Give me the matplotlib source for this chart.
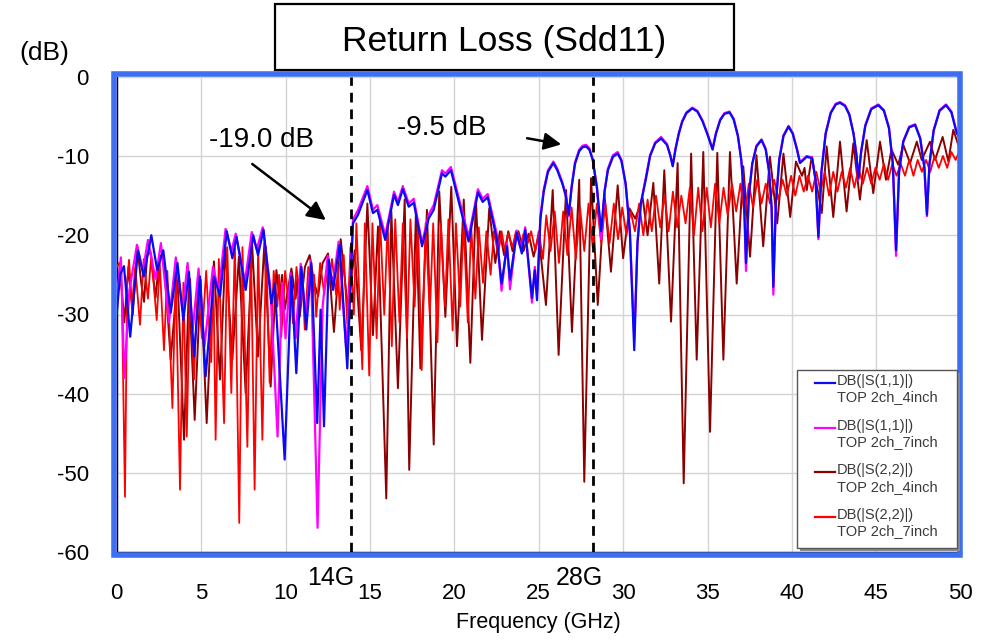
import numpy as np
import matplotlib.pyplot as plt
from matplotlib.patches import Rectangle

plt.rcParams["font.family"] = ["Liberation Sans", "DejaVu Sans"]
plt.rcParams["axes.unicode_minus"] = False

# ---- data: (GHz, dB) turning points ----
s11_4inch = [
    (0.0, -30), (0.2, -25), (0.43, -23.9), (0.8, -32.8), (1.26, -21.9), (1.6, -25.2), (2.05, -20.0),
    (2.4, -24.4), (2.76, -21.9), (3.2, -29.8), (3.6, -23.5), (3.95, -30.7), (4.28, -24.6), (4.58, -35.3),
    (4.93, -25.2), (5.27, -37.8), (5.76, -25.2), (6.12, -27.7), (6.52, -19.5), (6.85, -22.9), (7.1, -20.2),
    (7.64, -26.9), (8.09, -20.0), (8.37, -22.5), (8.7, -19.3), (9.16, -28.6), (9.36, -26.1), (9.95, -48.3),
    (10.35, -25.2), (10.64, -37.4), (10.94, -24.0), (11.23, -31.9), (11.53, -23.5), (11.88, -43.7),
    (12.08, -29.4), (12.28, -44.1), (12.56, -23.1), (12.81, -26.9), (13.21, -21.2), (13.66, -36.8),
    (14.0, -18.5), (14.3, -17.4), (14.85, -14.3), (15.18, -17.2), (15.44, -16.8), (15.91, -20.6),
    (16.43, -14.9), (16.66, -16.2), (16.95, -14.2), (17.3, -16.4), (17.6, -15.9), (18.09, -21.4),
    (18.48, -17.9), (18.78, -16.8), (19.27, -12.2), (19.47, -12.6), (19.8, -11.8), (20.85, -20.8),
    (21.4, -14.6), (21.68, -15.8), (21.98, -15.2), (22.53, -20.6), (22.8, -26.1), (23.12, -21.4),
    (23.3, -25.6), (23.7, -19.7), (24.0, -22.3), (24.2, -19.3), (24.6, -27.9), (24.77, -24.4),
    (24.9, -28.2), (25.1, -18), (25.3, -14.5), (25.55, -12), (25.87, -10.9), (26.1, -11.8), (26.4, -13.5),
    (26.6, -15), (26.78, -17.4), (26.95, -14), (27.15, -11), (27.4, -9.4), (27.6, -8.9), (27.8, -8.8),
    (28.0, -9.2), (28.2, -10.5), (28.45, -14), (28.7, -19.5), (28.9, -14.5), (29.1, -11.8), (29.4, -10.1),
    (29.68, -9.7), (29.9, -10.6), (30.15, -13.5), (30.4, -19.5), (30.66, -34.5), (30.85, -21), (31.05, -16),
    (31.36, -12.8), (31.6, -10), (31.9, -8.4), (32.25, -7.8), (32.6, -8.6), (32.8, -10), (32.94, -11.3),
    (33.1, -9.2), (33.3, -7.2), (33.5, -5.7), (33.75, -4.6), (34.1, -4.0), (34.4, -4.4), (34.7, -5.6),
    (35.0, -7.3), (35.3, -9.2), (35.5, -7.2), (35.75, -5.5), (36.0, -4.7), (36.3, -4.5), (36.55, -5.4),
    (36.8, -7.5), (37.0, -10.5), (37.15, -14.5), (37.28, -23.5), (37.45, -15), (37.65, -11), (37.9, -8.8),
    (38.2, -8.0), (38.45, -9.2), (38.65, -12), (38.8, -16.5), (38.9, -26.5), (39.05, -16), (39.25, -10.5),
    (39.5, -7.5), (39.8, -6.3), (40.05, -7.2), (40.3, -9.2), (40.48, -10.9), (40.88, -10.1), (41.2, -10.3),
    (41.4, -13), (41.57, -20.2), (41.75, -12), (42.0, -7.2), (42.3, -4.6), (42.6, -3.5), (42.85, -3.3),
    (43.15, -3.7), (43.4, -4.8), (43.65, -7.2), (43.82, -9.8), (43.94, -12.8), (44.1, -9.5), (44.35, -6.2),
    (44.7, -4.1), (45.12, -3.6), (45.45, -4.3), (45.75, -6.5), (45.98, -11), (46.17, -21.9), (46.35, -12),
    (46.6, -8.2), (46.95, -6.4), (47.3, -6.1), (47.6, -7.8), (47.85, -11.5), (48.0, -17.4), (48.15, -11),
    (48.4, -6.8), (48.75, -4.3), (49.13, -3.6), (49.45, -4.5), (49.76, -7.1), (50.0, -8.0),
]

s11_7inch = [
    (0.0, -28), (0.25, -22.8), (0.45, -38.0), (0.75, -27), (1.2, -21.2), (1.55, -24.5), (1.85, -20.6),
    (2.3, -25.5), (2.62, -21.0), (3.1, -31), (3.5, -22.8), (3.9, -29.5), (4.2, -23.5), (4.5, -32),
    (4.85, -24.2), (5.2, -34), (5.7, -24.0), (6.05, -27), (6.45, -19.2), (6.8, -22.0), (7.05, -19.8),
    (7.6, -25.8), (8.0, -19.6), (8.3, -21.8), (8.65, -19.0), (9.1, -26.5), (9.53, -45.4), (9.8, -26.0),
    (10.0, -33), (10.3, -24.8), (10.6, -33), (10.9, -23.6), (11.2, -30.5), (11.5, -23.2), (11.9, -56.9),
    (12.2, -29), (12.5, -22.6), (12.8, -26.2), (13.15, -20.8), (13.6, -34.5), (14.0, -18.0), (14.3, -16.8),
    (14.85, -13.8), (15.18, -16.8), (15.44, -16.2), (15.91, -20.0), (16.43, -14.5), (16.66, -15.8),
    (16.95, -13.8), (17.3, -16.0), (17.6, -15.4), (18.09, -21.0), (18.48, -17.4), (18.78, -16.2),
    (19.27, -11.8), (19.47, -12.2), (19.8, -11.4), (20.85, -20.2), (21.4, -14.2), (21.68, -15.4),
    (21.98, -14.8), (22.53, -20.0), (22.8, -27.0), (23.12, -21.0), (23.3, -26.8), (23.7, -19.4),
    (24.0, -22.0), (24.2, -19.0), (24.6, -28.5), (24.77, -24.0), (24.9, -27.5), (25.1, -17.6),
    (25.3, -14.2), (25.55, -11.8), (25.87, -10.7), (26.1, -11.6), (26.4, -13.3), (26.6, -14.9),
    (26.78, -17.6), (26.95, -13.8), (27.15, -10.8), (27.4, -9.2), (27.6, -8.7), (27.8, -8.6), (28.0, -9.0),
    (28.2, -10.4), (28.45, -14), (28.7, -20.5), (28.9, -14.5), (29.1, -11.6), (29.4, -9.9), (29.68, -9.5),
    (29.9, -10.5), (30.15, -13.5), (30.4, -19.5), (30.66, -33.0), (30.85, -21), (31.05, -16), (31.36, -12.6),
    (31.6, -9.9), (31.9, -8.3), (32.25, -7.6), (32.6, -8.5), (32.8, -9.9), (32.94, -11.2), (33.1, -9.1),
    (33.3, -7.1), (33.5, -5.6), (33.75, -4.5), (34.1, -3.9), (34.4, -4.3), (34.7, -5.5), (35.0, -7.2),
    (35.3, -9.1), (35.5, -7.1), (35.75, -5.4), (36.0, -4.6), (36.3, -4.4), (36.55, -5.3), (36.8, -7.4),
    (37.0, -10.5), (37.15, -14.5), (37.28, -24.5), (37.45, -15), (37.65, -11), (37.9, -8.7), (38.2, -7.9),
    (38.45, -9.1), (38.65, -12), (38.8, -16.8), (38.9, -27.5), (39.05, -16), (39.25, -10.4), (39.5, -7.4),
    (39.8, -6.2), (40.05, -7.1), (40.3, -9.1), (40.48, -10.8), (40.88, -10.0), (41.2, -10.2), (41.4, -13),
    (41.57, -20.5), (41.75, -12), (42.0, -7.1), (42.3, -4.5), (42.6, -3.4), (42.85, -3.2), (43.15, -3.6),
    (43.4, -4.7), (43.65, -7.1), (43.82, -9.8), (43.94, -13.0), (44.1, -9.5), (44.35, -6.1), (44.7, -4.0),
    (45.12, -3.5), (45.45, -4.2), (45.75, -6.4), (45.98, -11), (46.17, -22.6), (46.35, -12), (46.6, -8.1),
    (46.95, -6.3), (47.3, -6.0), (47.6, -7.7), (47.85, -11.5), (48.0, -17.6), (48.15, -11), (48.4, -6.7),
    (48.75, -4.2), (49.13, -3.5), (49.45, -4.4), (49.76, -7.0), (50.0, -8.0),
]

s22_4inch = [
    (0.0, -27), (0.2, -24), (0.45, -31), (0.7, -24), (0.95, -30), (1.22, -21.4), (1.45, -26),
    (1.62, -28.4), (1.8, -22.5), (2.0, -22.1), (2.3, -27.9), (2.55, -22.5), (2.8, -23), (3.2, -35.7),
    (3.6, -25.2), (3.99, -45.8), (4.28, -26.1), (4.62, -43.3), (4.97, -25.6), (5.33, -43.7),
    (5.76, -23.3), (6.12, -38.2), (6.45, -21.6), (6.85, -35.7), (7.24, -22.7), (7.64, -39.9),
    (8.03, -21.4), (8.37, -35.3), (8.75, -21.0), (9.12, -39.1), (9.46, -24.4), (9.65, -28), (9.8, -25),
    (9.95, -29.4), (10.35, -24.2), (10.6, -28), (10.7, -25.5), (10.84, -30.3), (11.15, -24),
    (11.43, -22.5), (11.7, -26), (11.93, -27.7), (12.2, -23.5), (12.52, -22.3), (12.87, -32.2),
    (13.27, -20.5), (13.7, -29.4), (14.1, -21.9), (14.49, -34.5), (14.85, -16.0), (15.18, -32.6),
    (15.48, -18.9), (15.97, -53.2), (16.27, -17.0), (16.66, -39.3), (17.06, -15.5), (17.33, -49.6),
    (17.73, -16.8), (17.99, -36.8), (18.38, -16.8), (18.78, -46.4), (19.11, -14.5), (19.47, -30.3),
    (19.82, -13.9), (20.16, -34.0), (20.56, -15.5), (20.95, -36.1), (21.28, -15.5), (21.64, -33.2),
    (22.07, -16.6), (22.43, -23.5), (22.7, -19.5), (22.95, -22.5), (23.2, -19.5), (23.45, -22),
    (23.8, -19.5), (24.1, -22), (24.4, -19.8), (24.7, -22.7), (25.0, -20), (25.43, -28.8),
    (25.83, -14.3), (26.18, -35.1), (26.62, -14.3), (26.97, -32.2), (27.4, -13.0), (27.7, -51.1),
    (28.1, -12.8), (28.5, -28.8), (28.89, -14.7), (29.28, -24.6), (29.68, -13.7), (30.0, -22.9),
    (30.37, -16.6), (30.72, -17.9), (31.16, -15.3), (31.45, -20.0), (31.79, -13.4), (32.14, -26.1),
    (32.44, -11.8), (32.84, -30.9), (33.23, -10.9), (33.59, -51.3), (34.03, -9.7), (34.36, -35.7),
    (34.75, -9.5), (35.15, -44.8), (35.58, -9.6), (35.94, -35.7), (36.33, -9.5), (36.73, -26.1),
    (37.12, -11.3), (37.52, -22.7), (37.9, -9.9), (38.3, -21.4), (38.7, -10.1), (39.13, -18.5),
    (39.5, -9.7), (39.9, -17.7), (40.24, -10.7), (40.6, -12.5), (40.75, -11.5), (40.88, -14.3),
    (41.17, -10.1), (41.77, -17.2), (42.06, -8.8), (42.45, -17.7), (42.85, -8.2), (43.24, -17.0),
    (43.64, -8.4), (44.03, -15.5), (44.43, -8.0), (44.82, -14.7), (45.22, -8.2), (45.57, -13.0),
    (45.9, -9.2), (46.3, -11.1), (46.6, -8.6), (47.0, -10.9), (47.4, -8.2), (47.69, -10.5),
    (48.18, -8.2), (48.48, -10.5), (48.93, -7.6), (49.27, -10.7), (49.56, -6.7), (50.0, -9.5),
]

s22_7inch = [
    (0.0, -24), (0.15, -23.5), (0.3, -27), (0.49, -53), (0.62, -26), (0.73, -23.1), (0.9, -29),
    (1.1, -24), (1.38, -31.3), (1.6, -23), (1.85, -28), (2.05, -22.5), (2.37, -30.7), (2.55, -23.5),
    (2.8, -34.5), (3.0, -24.5), (3.3, -41.8), (3.5, -25), (3.75, -52.1), (3.95, -26), (4.15, -45.4),
    (4.35, -25.5), (4.58, -38.2), (4.8, -26), (5.05, -33), (5.3, -24.5), (5.6, -36), (5.72, -24),
    (5.86, -45.8), (6.05, -23), (6.36, -43.7), (6.55, -21.5), (6.79, -39.9), (7.0, -21), (7.26, -56.3),
    (7.45, -21.5), (7.74, -46.7), (7.95, -21), (8.17, -52.1), (8.38, -21.5), (8.63, -45.8), (8.85, -21.5),
    (9.06, -38.6), (9.3, -24.5), (9.52, -29), (9.62, -25), (9.75, -32.8), (9.98, -24.5), (10.2, -29),
    (10.3, -25.5), (10.44, -31.1), (10.65, -24), (10.9, -28.5), (11.0, -25), (11.14, -31.9), (11.35, -24),
    (11.6, -28), (11.7, -25), (11.82, -30.3), (12.05, -23.5), (12.3, -27.5), (12.4, -24.5), (12.52, -26.9),
    (12.75, -23), (13.0, -27.5), (13.1, -24), (13.21, -29.4), (13.45, -22.5), (13.66, -31.1),
    (13.85, -21.5), (14.05, -30), (14.2, -18.5), (14.4, -29), (14.55, -36.9), (14.7, -18.5),
    (14.96, -37.7), (15.15, -18.5), (15.4, -33), (15.6, -18.0), (15.85, -30), (16.05, -18.5), (16.3, -34),
    (16.5, -18.0), (16.75, -31), (16.95, -18.5), (17.2, -33), (17.4, -18.0), (17.65, -29), (17.85, -18.5),
    (18.07, -37), (18.3, -18.5), (18.55, -30), (18.75, -18.5), (19.0, -33.5), (19.2, -18.5), (19.45, -29),
    (19.65, -18.0), (19.9, -32), (20.1, -18.5), (20.35, -29), (20.55, -18.5), (20.8, -31), (21.0, -19),
    (21.25, -28), (21.45, -19), (21.7, -26), (21.9, -19.5), (22.15, -25), (22.35, -19.5), (22.6, -22.5),
    (22.8, -19.5), (23.0, -22), (23.2, -19.8), (23.45, -21.5), (23.65, -19.5), (23.9, -21.5), (24.1, -19.8),
    (24.35, -21), (24.55, -19.5), (24.8, -22), (25.0, -19.5), (25.25, -23), (25.45, -17.5), (25.7, -22),
    (25.95, -17), (26.2, -23.5), (26.45, -17), (26.7, -22.5), (26.95, -16.5), (27.2, -23), (27.45, -16.5),
    (27.7, -22), (27.95, -16), (28.2, -21.5), (28.45, -16), (28.7, -21), (28.95, -16), (29.2, -21),
    (29.45, -16), (29.7, -20.5), (29.95, -16.5), (30.2, -20), (30.45, -17), (30.7, -19.5), (30.95, -16),
    (31.2, -20), (31.45, -15.5), (31.7, -19.5), (31.95, -15), (32.2, -19), (32.45, -15), (32.7, -19.5),
    (32.95, -14.5), (33.2, -19), (33.45, -15), (33.7, -18.5), (33.95, -14), (34.2, -20), (34.45, -14),
    (34.7, -19.5), (34.95, -14), (35.2, -19), (35.45, -13.5), (35.7, -18.5), (35.95, -14), (36.2, -17.5),
    (36.45, -13.5), (36.7, -17), (36.95, -13.5), (37.2, -17.5), (37.45, -13.5), (37.7, -16.5), (37.95, -13),
    (38.2, -16), (38.45, -13.5), (38.7, -16), (38.95, -13), (39.2, -15.5), (39.45, -13), (39.7, -15),
    (39.95, -12.5), (40.2, -15), (40.45, -12.5), (40.7, -14.5), (40.95, -12.5), (41.2, -14.5), (41.45, -12),
    (41.7, -14.5), (41.95, -12), (42.2, -15), (42.45, -12), (42.7, -14.5), (42.95, -12), (43.2, -14),
    (43.45, -11.5), (43.7, -14), (43.95, -11.5), (44.2, -13.5), (44.45, -11.5), (44.7, -13.5),
    (44.95, -11.5), (45.2, -13), (45.45, -11), (45.7, -13), (45.95, -11), (46.2, -12.5), (46.45, -11),
    (46.7, -12.5), (46.95, -10.5), (47.2, -12.5), (47.45, -10.5), (47.7, -12), (47.95, -10.5), (48.2, -12),
    (48.45, -10), (48.7, -11.5), (48.95, -10), (49.2, -11.5), (49.45, -9.5), (49.7, -10.5), (50.0, -9.0),
]

series_labels = ["DB(|S(1,1)|)\nTOP 2ch_4inch", "DB(|S(1,1)|)\nTOP 2ch_7inch",
                 "DB(|S(2,2)|)\nTOP 2ch_4inch", "DB(|S(2,2)|)\nTOP 2ch_7inch"]
series_colors = ["#0a0af5", "#ff00ff", "#8b0000", "#ff0000"]
marker_freqs = [13.9, 28.2]
marker_labels = ["14G", "28G"]
x_ticks = [0, 5, 10, 15, 20, 25, 30, 35, 40, 45, 50]
y_ticks = [0, -10, -20, -30, -40, -50, -60]

W, H = 993, 640
fig = plt.figure(figsize=(W / 100, H / 100), dpi=100)
fig.patch.set_facecolor("white")


def fx(px):
    return px / W


def fy(py):
    return 1 - py / H


ax = fig.add_axes([fx(116.7), fy(552.3), fx(960.7) - fx(116.7), fy(76.7) - fy(552.3)])
ax.set_xlim(0, 50)
ax.set_ylim(-60, 0)
ax.set_xticks(x_ticks)
ax.set_yticks(y_ticks)
ax.tick_params(length=0, labelsize=16)
ax.tick_params(axis="y", pad=20)
ax.tick_params(axis="x", pad=22)
ax.grid(True, color="#d4d4d4", lw=1.0)
ax.set_axisbelow(True)
for side in ["top", "right"]:
    ax.spines[side].set_visible(False)
for side in ["left", "bottom"]:
    ax.spines[side].set_color("black")
    ax.spines[side].set_linewidth(1.0)

# draw curves (reds first, blue on top)
order = [2, 3, 1, 0]
all_data = [s11_4inch, s11_7inch, s22_4inch, s22_7inch]
widths = [1.6, 1.6, 1.4, 1.3]
for i in order:
    f, db = np.array(all_data[i]).T
    ax.plot(f, db, color=series_colors[i], lw=widths[i], zorder=2 + order.index(i))

# vertical markers; their labels sit just left of the dashed line
label_right = [0.2, 0.6]
for xm, lab, dx in zip(marker_freqs, marker_labels, label_right):
    ax.axvline(xm, color="black", lw=2, ls=(0, (3.5, 2.5)), zorder=10)
    ax.text(xm + dx, -0.053, lab, transform=ax.get_xaxis_transform(), ha="right", va="center",
            fontsize=18, clip_on=False)

# annotations
ax.annotate("", xy=(12.52, -18.3), xytext=(7.9, -10.8),
            arrowprops=dict(arrowstyle="-|>", color="black", lw=1.8, mutation_scale=28), zorder=12)
ax.text(8.6, -8.0, "-19.0 dB", fontsize=20, ha="center", va="center", zorder=12)
ax.annotate("", xy=(26.5, -8.6), xytext=(24.15, -7.7),
            arrowprops=dict(arrowstyle="-|>", color="black", lw=1.8, mutation_scale=26), zorder=12)
ax.text(19.28, -6.5, "-9.5 dB", fontsize=20, ha="center", va="center", zorder=12)

ax.set_xlabel("Frequency (GHz)", fontsize=15.5, labelpad=6)

# blue frame around plot
fig.patches.append(Rectangle((fx(113.5), fy(555.3)), fx(960.3) - fx(113.5), fy(74) - fy(555.3),
                             transform=fig.transFigure, fill=False, edgecolor="#3d6ff0", lw=4.0, zorder=20))

# title box
fig.patches.append(Rectangle((fx(275), fy(70)), fx(734) - fx(275), fy(4) - fy(70),
                             transform=fig.transFigure, fill=True, facecolor="white",
                             edgecolor="black", lw=1.6, zorder=21))
fig.text(fx(504), fy(41), "Return Loss (Sdd11)", fontsize=25.5, ha="center", va="center", zorder=22)
fig.text(fx(44), fy(53), "(dB)", fontsize=19, ha="center", va="center")

# legend box with shadow
fig.patches.append(Rectangle((fx(800), fy(551)), fx(960) - fx(800), fy(373) - fy(551),
                             transform=fig.transFigure, facecolor="#8a8a8a", edgecolor="none", zorder=22))
fig.patches.append(Rectangle((fx(797), fy(548)), fx(957) - fx(797), fy(370) - fy(548),
                             transform=fig.transFigure, facecolor="white", edgecolor="#555555",
                             lw=1.0, zorder=23))
for k, (lab, col) in enumerate(zip(series_labels, series_colors)):
    yl = 383 + k * 44.7
    fig.add_artist(plt.Line2D([fx(815), fx(835)], [fy(yl), fy(yl)], color=col, lw=1.6,
                              transform=fig.transFigure, zorder=24))
    fig.text(fx(837), fy(yl - 9), lab, fontsize=10.5, color="#3a3a3a", ha="left", va="top",
             linespacing=1.2, zorder=24)

fig.savefig("out.png", dpi=100)
